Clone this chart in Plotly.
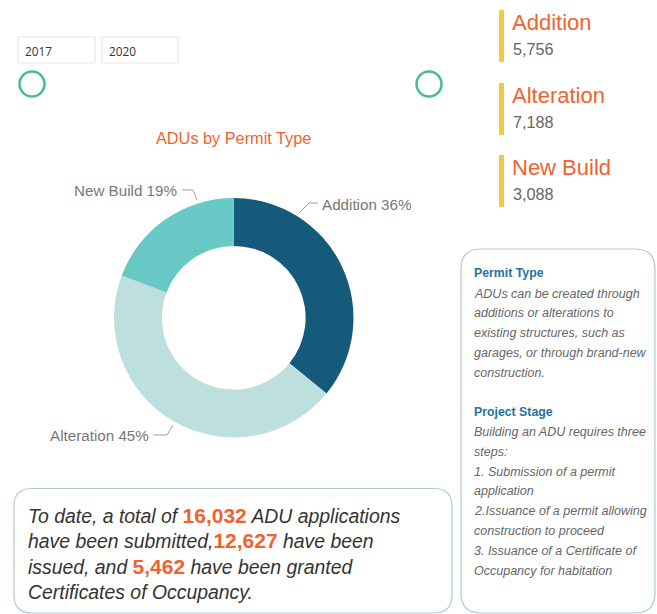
import plotly.graph_objects as go

W, H = 657, 614

# ---- data ----
permit_types = ["Addition", "Alteration", "New Build"]
permit_counts = [5756, 7188, 3088]
pie_colors = ["#165A7B", "#BDE0DF", "#67C8C5"]

year_from = "2017"
year_to = "2020"

apps_submitted = 16032
apps_issued = 12627
apps_occupancy = 5462

chart_title = "ADUs by Permit Type"

info_permit_title = "Permit Type"
info_permit_lines = [
    "ADUs can be created through",
    "additions or alterations to",
    "existing structures, such as",
    "garages, or through brand-new",
    "construction.",
]
info_stage_title = "Project Stage"
info_stage_lines = [
    "Building an ADU requires three",
    "steps:",
    "1. Submission of a permit",
    "application",
    "2.Issuance of a permit allowing",
    "construction to proceed",
    "3. Issuance of a Certificate of",
    "Occupancy for habitation",
]

# ---- styling / layout constants ----
ORANGE = "#F2622E"
GRAY_TXT = "#666666"
LABEL_GRAY = "#777777"
BORDER = "#AFC9D8"
FONT = "Liberation Sans, Arial, sans-serif"

fig = go.Figure()

total = sum(permit_counts)
pcts = [round(100 * v / total) for v in permit_counts]

fig.add_trace(go.Pie(
    labels=permit_types,
    values=permit_counts,
    marker=dict(colors=pie_colors, line=dict(width=0)),
    hole=0.6,
    sort=False,
    direction="clockwise",
    rotation=0,
    textinfo="none",
    hoverinfo="label+value+percent",
    showlegend=False,
    domain=dict(x=[114 / W, 353.5 / W], y=[1 - 437.5 / H, 1 - 198 / H]),
))

shapes = []
annotations = []


def rounded_rect(x0, y0, x1, y1, r):
    return (f"M{x0+r},{y0} L{x1-r},{y0} Q{x1},{y0} {x1},{y0+r} "
            f"L{x1},{y1-r} Q{x1},{y1} {x1-r},{y1} L{x0+r},{y1} "
            f"Q{x0},{y1} {x0},{y1-r} L{x0},{y0+r} Q{x0},{y0} {x0+r},{y0} Z")


def text(x, y, s, size, color, xanchor="left", family=FONT):
    annotations.append(dict(
        x=x, y=y, xref="x", yref="y", text=s, showarrow=False,
        xanchor=xanchor, yanchor="middle",
        font=dict(size=size, color=color, family=family),
    ))


# year inputs
for (bx0, bx1, label) in [(18, 95, year_from), (102, 178, year_to)]:
    shapes.append(dict(type="rect", xref="x", yref="y", x0=bx0, x1=bx1, y0=37, y1=63,
                       line=dict(color="#E6E6E6", width=1.2), fillcolor="white"))
    text(bx0 + 5, 50.5, label, 11.8, "#333333", family="Open Sans, sans-serif")

# slider handles
for cx in [32, 429]:
    shapes.append(dict(type="circle", xref="x", yref="y", x0=cx - 12.5, x1=cx + 12.5,
                       y0=84 - 12.5, y1=84 + 12.5, line=dict(color="#47BE8A", width=2.5),
                       fillcolor="rgba(0,0,0,0)"))

# chart title
text(233.5, 138, chart_title, 16.3, ORANGE, xanchor="center")

# pie labels with leader lines (anchor layout per slice)
leader_paths = [
    [(299, 213), (309, 203), (318, 203)],
    [(173, 425), (167, 435), (153, 435)],
    [(197, 200), (193, 190), (182, 190)],
]
label_pos = [(320, 204, "left"), (151, 435, "right"), (179, 190, "right")]
for name, pct, pts, (lx, ly, anc) in zip(permit_types, pcts, leader_paths, label_pos):
    path = "M" + " L".join(f"{px},{py}" for px, py in pts)
    shapes.append(dict(type="path", xref="x", yref="y", path=path,
                       line=dict(color="#A0A0A0", width=1)))
    text(lx, ly, f"{name} {pct}%", 15.2, LABEL_GRAY, xanchor=anc)

# KPI cards
card_tops = [10, 83, 155]
for name, val, top in zip(permit_types, permit_counts, card_tops):
    shapes.append(dict(type="rect", xref="x", yref="y", x0=499, x1=504, y0=top, y1=top + 52,
                       line=dict(width=0), fillcolor="#F5C842"))
    text(510, top + 12.5, name, 22, ORANGE)
    text(510.5, top + 39, f"{val:,}", 16.2, GRAY_TXT)

# info box
shapes.append(dict(type="path", xref="x", yref="y", path=rounded_rect(461, 249, 655, 613, 20),
                   line=dict(color=BORDER, width=1.2), fillcolor="rgba(0,0,0,0)"))
text(471.5, 273, f"<b>{info_permit_title}</b>", 12.3, "#23729E")
for i, ln in enumerate(info_permit_lines):
    text(471.5, 293.5 + i * 19.8, f"<i>{ln}</i>", 12.5, GRAY_TXT)
text(471.5, 412, f"<b>{info_stage_title}</b>", 12.3, "#23729E")
for i, ln in enumerate(info_stage_lines):
    text(471.5, 432 + i * 19.8, f"<i>{ln}</i>", 12.5, GRAY_TXT)

# summary box
shapes.append(dict(type="path", xref="x", yref="y", path=rounded_rect(14, 488.5, 452, 613, 18),
                   line=dict(color=BORDER, width=1.2), fillcolor="rgba(0,0,0,0)"))


def num(v):
    return f"<b><span style='color:{ORANGE};font-size:21px'>{v:,}</span></b>"


summary_lines = [
    f"<i>To date, a total of </i>{num(apps_submitted)}<i> ADU applications</i>",
    f"<i>have been submitted,</i>{num(apps_issued)}<i> have been</i>",
    f"<i>issued, and </i>{num(apps_occupancy)}<i> have been granted</i>",
    "<i>Certificates of Occupancy.</i>",
]
for i, ln in enumerate(summary_lines):
    text(25.5, 515 + i * 25.7, ln, 19.4, "#333333")

fig.update_layout(
    width=W, height=H,
    margin=dict(l=0, r=0, t=0, b=0),
    paper_bgcolor="white", plot_bgcolor="rgba(0,0,0,0)",
    xaxis=dict(range=[0, W], visible=False, fixedrange=True, domain=[0, 1]),
    yaxis=dict(range=[H, 0], visible=False, fixedrange=True, domain=[0, 1]),
    shapes=shapes,
    annotations=annotations,
    font=dict(family=FONT),
)

fig.write_html("out.html")
